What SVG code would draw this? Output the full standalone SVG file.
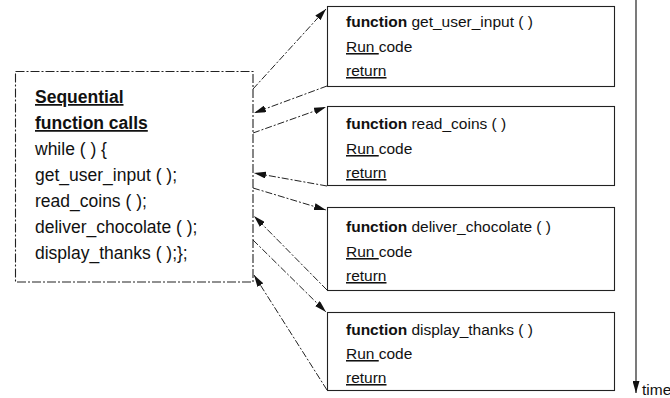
<svg xmlns="http://www.w3.org/2000/svg" width="670" height="398" viewBox="0 0 670 398">
<style>
text{font-family:"Liberation Sans",Arial,sans-serif;fill:#111}
.l{font-size:17.5px}
.r{font-size:15.5px}
.b{font-weight:bold}
.u{text-decoration:underline}
.box{fill:#fff;stroke:#222;stroke-width:1.1}
.lbox{fill:#fff;stroke:#222;stroke-width:1.1;stroke-dasharray:9 2 2 2}
.c{fill:none;stroke:#222;stroke-width:1;stroke-dasharray:7 2 2 2;marker-end:url(#ah)}
.t{fill:none;stroke:#222;stroke-width:1.2;marker-end:url(#ah)}
</style>
<defs>
<marker id="ah" markerWidth="12" markerHeight="7" refX="12" refY="3.5" orient="auto" markerUnits="userSpaceOnUse">
<path d="M0,0 L12,3.5 L0,7 z" fill="#111"/>
</marker>
</defs>
<rect width="670" height="398" fill="#fff"/>
<g id="main">
<rect class="lbox" x="15.5" y="71.5" width="237.5" height="210.5"/>
<text class="l b u" x="35" y="103">Sequential</text>
<text class="l b u" x="35" y="129">function calls</text>
<text class="l" x="35" y="155">while ( ) {</text>
<text class="l" x="35" y="181">get_user_input ( );</text>
<text class="l" x="35" y="207">read_coins ( );</text>
<text class="l" x="35" y="233">deliver_chocolate ( );</text>
<text class="l" x="35" y="259">display_thanks ( );};</text>
</g>
<g id="f1">
<rect class="box" x="327.5" y="6.5" width="287" height="80"/>
<text class="r" x="346" y="27"><tspan class="b">function</tspan> get_user_input ( )</text>
<text class="r" x="346" y="52"><tspan class="u">Run </tspan>code</text>
<text class="r u" x="346" y="76">return</text>
</g>
<g id="f2">
<rect class="box" x="327.5" y="106.5" width="287" height="79"/>
<text class="r" x="346" y="129"><tspan class="b">function</tspan> read_coins ( )</text>
<text class="r" x="346" y="154"><tspan class="u">Run </tspan>code</text>
<text class="r u" x="346" y="178">return</text>
</g>
<g id="f3">
<rect class="box" x="327.5" y="207.5" width="287" height="83"/>
<text class="r" x="346" y="232"><tspan class="b">function</tspan> deliver_chocolate ( )</text>
<text class="r" x="346" y="257"><tspan class="u">Run </tspan>code</text>
<text class="r u" x="346" y="281">return</text>
</g>
<g id="f4">
<rect class="box" x="327.5" y="312.5" width="287" height="78"/>
<text class="r" x="346" y="335"><tspan class="b">function</tspan> display_thanks ( )</text>
<text class="r" x="346" y="359"><tspan class="u">Run </tspan>code</text>
<text class="r u" x="346" y="383">return</text>
</g>
<g id="time">
<line class="t" x1="636" y1="0" x2="636" y2="393"/>
<text class="r" x="642" y="395">time</text>
</g>
<g id="connectors">
<line class="c" x1="253" y1="89" x2="326" y2="9"/>
<line class="c" x1="327" y1="86" x2="254" y2="113"/>
<line class="c" x1="253" y1="133" x2="326" y2="107"/>
<line class="c" x1="327" y1="186" x2="254" y2="173"/>
<line class="c" x1="253" y1="188" x2="326" y2="210"/>
<line class="c" x1="327" y1="290" x2="254" y2="216"/>
<line class="c" x1="253" y1="240" x2="326" y2="312"/>
<line class="c" x1="327" y1="390" x2="254" y2="275"/>
</g>
</svg>
